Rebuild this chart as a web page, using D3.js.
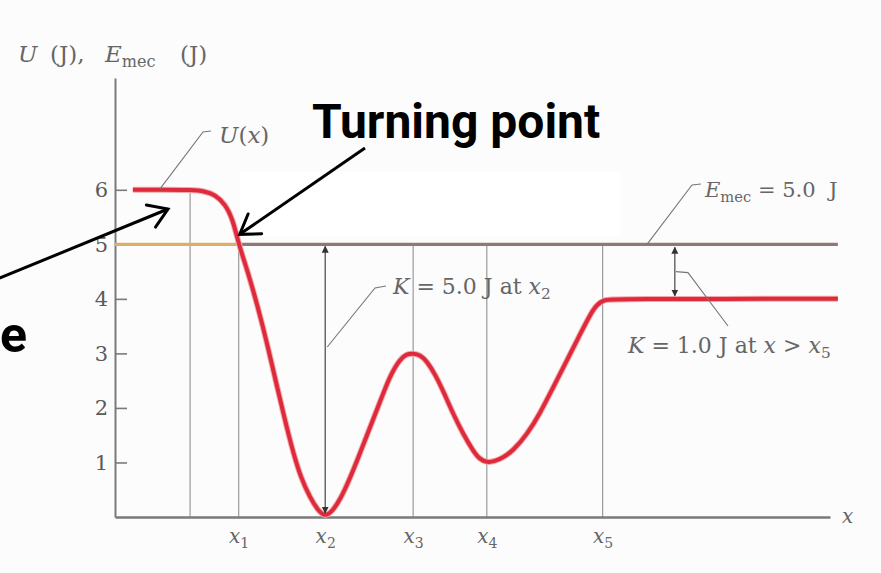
<!DOCTYPE html>
<html>
<head>
<meta charset="utf-8">
<script src="https://cdn.jsdelivr.net/npm/d3@7"></script>
<style>
  body { margin: 0; background: #fcfcfc; }
  svg { display: block; }
</style>
</head>
<body>
<svg id="chart" width="881" height="573"></svg>
<script>
// Potential energy curve U(x): x in arbitrary units, U in joules
const uX = [
  0.25, 0.63, 1.09, 1.26, 1.40, 1.54, 1.65, 1.73, 1.85, 1.99, 2.13, 2.25, 2.38,
  2.49, 2.60, 2.73, 2.84, 2.94, 3.05, 3.16, 3.27, 3.40, 3.52, 3.68, 3.85, 3.99,
  4.08, 4.17, 4.27, 4.36, 4.48, 4.59, 4.73, 4.87, 5.01, 5.10, 5.20, 5.31, 5.43,
  5.57, 5.76, 5.94, 6.13, 6.32, 6.50, 6.64, 6.74, 6.84, 6.95, 10.11
];
const uJ = [
  6.00, 6.00, 6.00, 5.97, 5.91, 5.74, 5.45, 5.00, 4.53, 3.89, 3.17, 2.48, 1.76,
  1.19, 0.72, 0.35, 0.12, 0.00, 0.12, 0.35, 0.66, 1.08, 1.49, 2.02, 2.61, 2.90,
  2.99, 3.00, 2.97, 2.86, 2.61, 2.31, 1.89, 1.52, 1.21, 1.06, 1.00, 1.02, 1.09,
  1.22, 1.51, 1.89, 2.38, 2.87, 3.34, 3.70, 3.90, 3.98, 4.00, 4.00
];
// Named positions along the x axis
const xMarkNames = ["1", "2", "3", "4", "5"];
const xMarkValues = [1.73, 2.94, 4.17, 5.20, 6.82];
// Unlabelled guide where the plateau at 6 J ends
const plateauEnd = 1.05;
const plateauLevel = 6;
// Mechanical energy and kinetic energy callouts
const eMec = 5.0;
const kAtX2 = 5.0;
const kBeyondX5 = 1.0;
const kBeyondX5At = 7.83;
const yTickValues = [1, 2, 3, 4, 5, 6];

const svg = d3.select("#chart");
const serif = "'DejaVu Serif', 'Liberation Serif', serif";
const grey = "#666";

const x = d3.scaleLinear().domain([0, 10]).range([115, 830]);
const y = d3.scaleLinear().domain([0, 8.05]).range([517, 78]);

// white patch behind the turning-point callout
svg.append("rect").attr("x", 240).attr("y", 172).attr("width", 380).attr("height", 64).attr("fill", "#ffffff");

const defs = svg.append("defs");
defs.append("marker")
  .attr("id", "tip").attr("viewBox", "0 0 10 10")
  .attr("refX", 9).attr("refY", 5)
  .attr("markerWidth", 7).attr("markerHeight", 9)
  .attr("markerUnits", "userSpaceOnUse")
  .attr("orient", "auto-start-reverse")
  .append("path").attr("d", "M0,0 L10,5 L0,10 Z").attr("fill", "#333");

// vertical guides
const guides = [
  { at: plateauEnd, top: plateauLevel },
  { at: xMarkValues[0], top: eMec },
  { at: xMarkValues[2], top: eMec },
  { at: xMarkValues[3], top: eMec },
  { at: xMarkValues[4], top: eMec }
];
svg.append("g").selectAll("line").data(guides).join("line")
  .attr("x1", d => x(d.at)).attr("x2", d => x(d.at))
  .attr("y1", y(0)).attr("y2", d => y(d.top))
  .attr("stroke", "#9a9a9a").attr("stroke-width", 1.2);

// axes
const yAxis = d3.axisLeft(y).tickValues(yTickValues).tickSize(-12).tickSizeOuter(0).tickPadding(7);
const gy = svg.append("g").attr("transform", `translate(${x(0)},0)`).call(yAxis);
gy.select(".domain").attr("stroke", "#7a7a7a").attr("stroke-width", 2);
gy.selectAll(".tick line").attr("stroke", "#7a7a7a").attr("stroke-width", 1.6);
gy.selectAll(".tick text").attr("font-family", serif).attr("font-size", 21).attr("fill", "#5a5a5a");

const xAxis = d3.axisBottom(x).tickValues(xMarkValues).tickSize(0).tickSizeOuter(0).tickPadding(8).tickFormat(() => "");
const gx = svg.append("g").attr("transform", `translate(0,${y(0)})`).call(xAxis);
gx.select(".domain").attr("stroke", "#7a7a7a").attr("stroke-width", 2.4);
gx.selectAll(".tick text").each(function (d, i) {
  const t = d3.select(this)
    .attr("font-family", serif).attr("font-size", 20).attr("fill", grey)
    .attr("dy", "0.9em");
  t.append("tspan").attr("font-style", "italic").text("x");
  t.append("tspan").attr("font-size", 14).attr("dy", 5).text(xMarkNames[i]);
});

// mechanical energy line
svg.append("line")
  .attr("x1", x(0)).attr("x2", x(xMarkValues[0]))
  .attr("y1", y(eMec)).attr("y2", y(eMec))
  .attr("stroke", "#dcae6a").attr("stroke-width", 3.2);
svg.append("line")
  .attr("x1", x(xMarkValues[0])).attr("x2", x(10.11))
  .attr("y1", y(eMec)).attr("y2", y(eMec))
  .attr("stroke", "#8e7a72").attr("stroke-width", 3.2);

// U(x), drawn as a smooth B-spline through the sampled readings
const uCurve = d3.zip(uX, uJ);
const line = d3.line().x(d => x(d[0])).y(d => y(d[1])).curve(d3.curveBasis);
svg.append("path").datum(uCurve)
  .attr("d", line).attr("fill", "none")
  .attr("stroke", "#f4a8a8").attr("stroke-width", 6).attr("stroke-linejoin", "round");
svg.append("path").datum(uCurve)
  .attr("d", line).attr("fill", "none")
  .attr("stroke", "#dd2a3c").attr("stroke-width", 4).attr("stroke-linejoin", "round");

// kinetic energy arrows
svg.append("line")
  .attr("x1", x(xMarkValues[1])).attr("x2", x(xMarkValues[1]))
  .attr("y1", y(eMec) + 2).attr("y2", y(eMec - kAtX2) - 4)
  .attr("stroke", "#444").attr("stroke-width", 1.2)
  .attr("marker-start", "url(#tip)").attr("marker-end", "url(#tip)");
svg.append("line")
  .attr("x1", x(kBeyondX5At)).attr("x2", x(kBeyondX5At))
  .attr("y1", y(eMec) + 3).attr("y2", y(eMec - kBeyondX5) - 3)
  .attr("stroke", "#444").attr("stroke-width", 1.2)
  .attr("marker-start", "url(#tip)").attr("marker-end", "url(#tip)");

// leader lines
const leader = pts => svg.append("path")
  .attr("d", d3.line()(pts)).attr("fill", "none")
  .attr("stroke", "#777").attr("stroke-width", 1.1);
leader([[160, y(plateauLevel) - 1], [203, 132], [211, 131]]);
leader([[x(xMarkValues[1]) + 2, 347], [375, 288], [386, 286]]);
leader([[647, y(eMec)], [692, 185], [701, 184]]);
const kMid = (y(eMec) + y(eMec - kBeyondX5)) / 2;
leader([[x(kBeyondX5At) + 1, kMid], [688, kMid + 1], [728, 326]]);

// text labels
function label(px, py, parts, size) {
  const fs = size || 21;
  const t = svg.append("text").attr("x", px).attr("y", py)
    .attr("font-family", serif).attr("font-size", fs).attr("fill", grey);
  parts.forEach(p => {
    const s = t.append("tspan").text(p.t);
    if (p.at !== undefined) s.attr("x", p.at);
    if (p.i) s.attr("font-style", "italic");
    if (p.sub) s.attr("font-size", fs * 0.7).attr("dy", 5);
    if (p.up) s.attr("dy", -5);
  });
  return t;
}
label(18, 62, [
  { t: "U", i: 1 }, { t: "(J),", at: 50 }, { t: "E", i: 1, at: 105 },
  { t: "mec", sub: 1 }, { t: "(J)", up: 1, at: 180 }
], 23);
label(219, 143, [{ t: "U", i: 1 }, { t: "(" }, { t: "x", i: 1 }, { t: ")" }], 23);
label(393, 294, [{ t: "K", i: 1 }, { t: " = 5.0 J at " }, { t: "x", i: 1 }, { t: "2", sub: 1 }], 22);
label(705, 197, [{ t: "E", i: 1 }, { t: "mec", sub: 1 }, { t: " = 5.0\u00a0\u00a0J", up: 1 }], 21);
label(628, 353, [{ t: "K", i: 1 }, { t: " = 1.0 J at " }, { t: "x", i: 1 }, { t: " > " }, { t: "x", i: 1 }, { t: "5", sub: 1 }], 22);
svg.append("text").attr("x", x(10) + 12).attr("y", y(0) + 6)
  .attr("font-family", serif).attr("font-style", "italic").attr("font-size", 20).attr("fill", grey).text("x");

// bold callouts with open arrowheads
function callout(x0, y0, x1, y1) {
  const ang = Math.atan2(y0 - y1, x0 - x1);
  const len = 22, spread = 33 * Math.PI / 180;
  svg.append("line").attr("x1", x0).attr("y1", y0).attr("x2", x1).attr("y2", y1)
    .attr("stroke", "#000").attr("stroke-width", 3);
  svg.append("path")
    .attr("d", d3.line()([
      [x1 + len * Math.cos(ang - spread), y1 + len * Math.sin(ang - spread)],
      [x1, y1],
      [x1 + len * Math.cos(ang + spread), y1 + len * Math.sin(ang + spread)]
    ]))
    .attr("fill", "none").attr("stroke", "#000").attr("stroke-width", 3)
    .attr("stroke-linecap", "round").attr("stroke-linejoin", "miter");
}
callout(365, 148, x(xMarkValues[0]) + 1, y(eMec) - 10);
callout(-5, 280, 168, 209);

svg.append("text").attr("x", 312).attr("y", 138)
  .attr("font-family", "Roboto, 'DejaVu Sans', sans-serif").attr("font-weight", 700)
  .attr("font-size", 48).attr("fill", "#000").text("Turning point");
svg.append("text").attr("x", 27).attr("y", 352).attr("text-anchor", "end")
  .attr("font-family", "Roboto, 'DejaVu Sans', sans-serif").attr("font-weight", 700)
  .attr("font-size", 50).attr("fill", "#000").text("e");
</script>
</body>
</html>
